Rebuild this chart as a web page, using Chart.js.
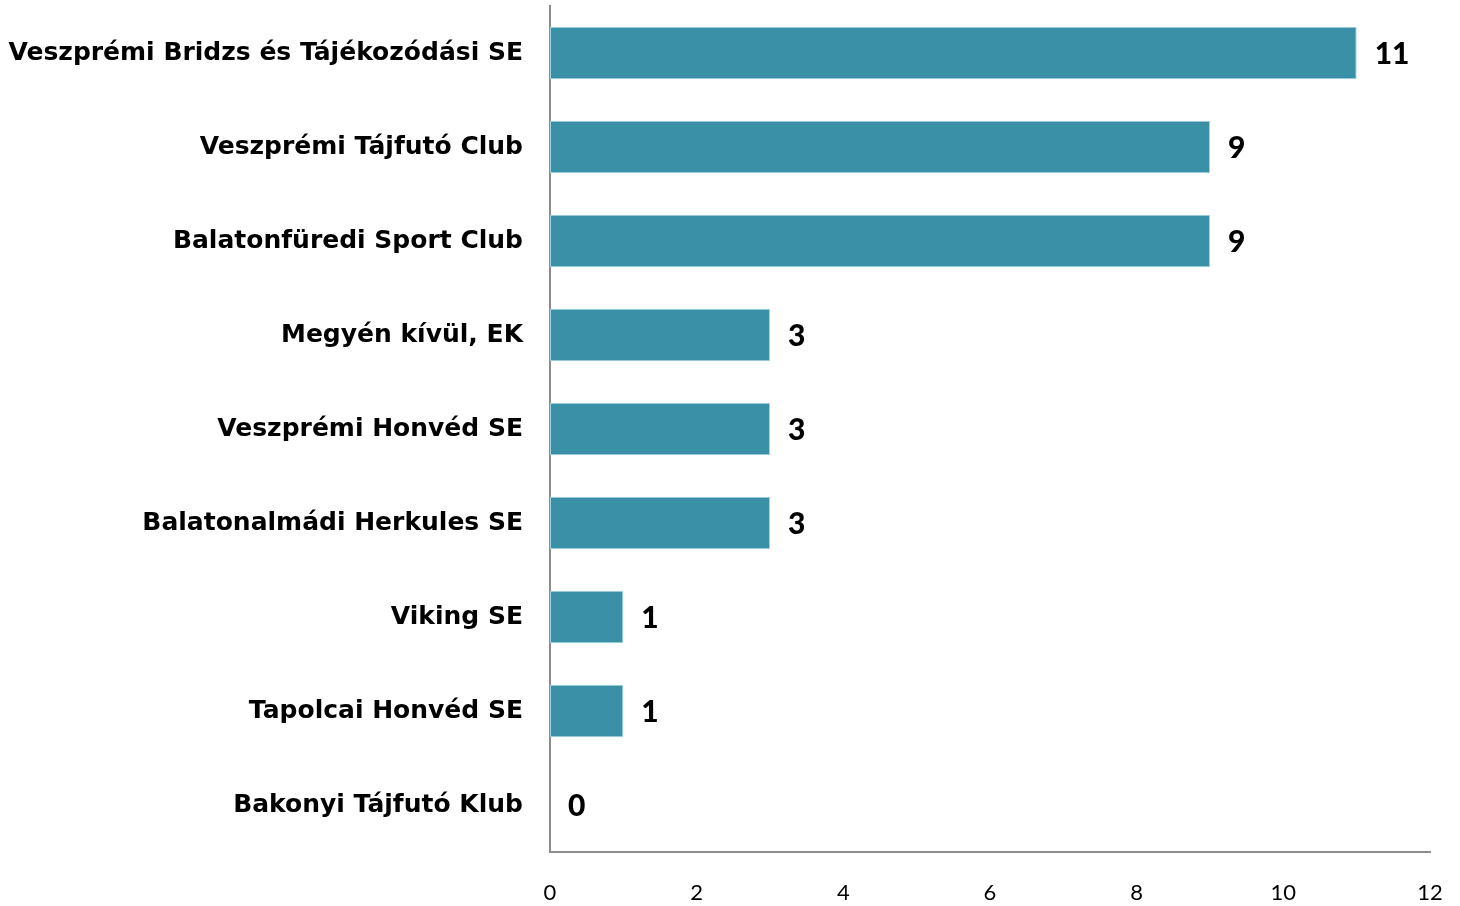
<!DOCTYPE html>
<html>
<head>
<meta charset="utf-8">
<script src="https://cdn.jsdelivr.net/npm/chart.js@4.4.1/dist/chart.umd.min.js"></script>
<style>
    html, body { margin: 0; padding: 0; background: #ffffff; }
    #wrap { width: 1460px; height: 906px; }
</style>
</head>
<body>
<div id="wrap"><canvas id="clubChart" width="1460" height="906"></canvas></div>
<script>
const clubs = [
    "Veszprémi Bridzs és Tájékozódási SE",
    "Veszprémi Tájfutó Club",
    "Balatonfüredi Sport Club",
    "Megyén kívül, EK",
    "Veszprémi Honvéd SE",
    "Balatonalmádi Herkules SE",
    "Viking SE",
    "Tapolcai Honvéd SE",
    "Bakonyi Tájfutó Klub"
];
const counts = [11, 9, 9, 3, 3, 3, 1, 1, 0];
const xTicks = [0, 2, 4, 6, 8, 10, 12];

const LABEL_FONT = "'DejaVu Sans', sans-serif";
const NUM_FONT = "Lato, 'Open Sans', sans-serif";

// value labels at the end of each bar
const valueLabels = {
    id: "valueLabels",
    afterDatasetsDraw(chart) {
        const ctx = chart.ctx;
        const meta = chart.getDatasetMeta(0);
        ctx.save();
        ctx.font = "900 30px " + NUM_FONT;
        ctx.fillStyle = "#000000";
        ctx.textAlign = "left";
        ctx.textBaseline = "middle";
        meta.data.forEach((bar, i) => {
            ctx.fillText(String(counts[i]), bar.x + 18, bar.y + 1);
        });
        ctx.restore();
    }
};

new Chart(document.getElementById("clubChart"), {
    type: "bar",
    data: {
        labels: clubs,
        datasets: [{
            data: counts,
            backgroundColor: "#3a90a6",
            borderColor: "#a6d2de",
            borderWidth: 1,
            borderSkipped: false,
            barPercentage: 0.56,
            categoryPercentage: 1.0
        }]
    },
    options: {
        indexAxis: "y",
        responsive: false,
        animation: false,
        devicePixelRatio: 1,
        layout: { padding: { top: 6, right: 30, bottom: 0, left: 0 } },
        plugins: {
            legend: { display: false },
            tooltip: { enabled: false }
        },
        scales: {
            x: {
                min: 0,
                max: 12,
                afterBuildTicks(scale) {
                    scale.ticks = xTicks.map(v => ({ value: v }));
                },
                afterFit(scale) {
                    scale.height = 54;
                    scale.paddingLeft = 0;
                    scale.paddingRight = 0;
                },
                grid: { display: false, drawTicks: false },
                border: { display: true, color: "#8c8c8c", width: 2 },
                ticks: {
                    padding: 28,
                    color: "#000000",
                    font: { family: NUM_FONT, size: 22 }
                }
            },
            y: {
                afterFit(scale) {
                    scale.width = 550;
                    scale.paddingTop = 0;
                    scale.paddingBottom = 0;
                },
                grid: { display: false, drawTicks: false },
                border: { display: true, color: "#8c8c8c", width: 2 },
                ticks: {
                    padding: 27,
                    color: "#000000",
                    font: { family: LABEL_FONT, size: 25, weight: "bold" }
                }
            }
        }
    },
    plugins: [valueLabels]
});
</script>
</body>
</html>
